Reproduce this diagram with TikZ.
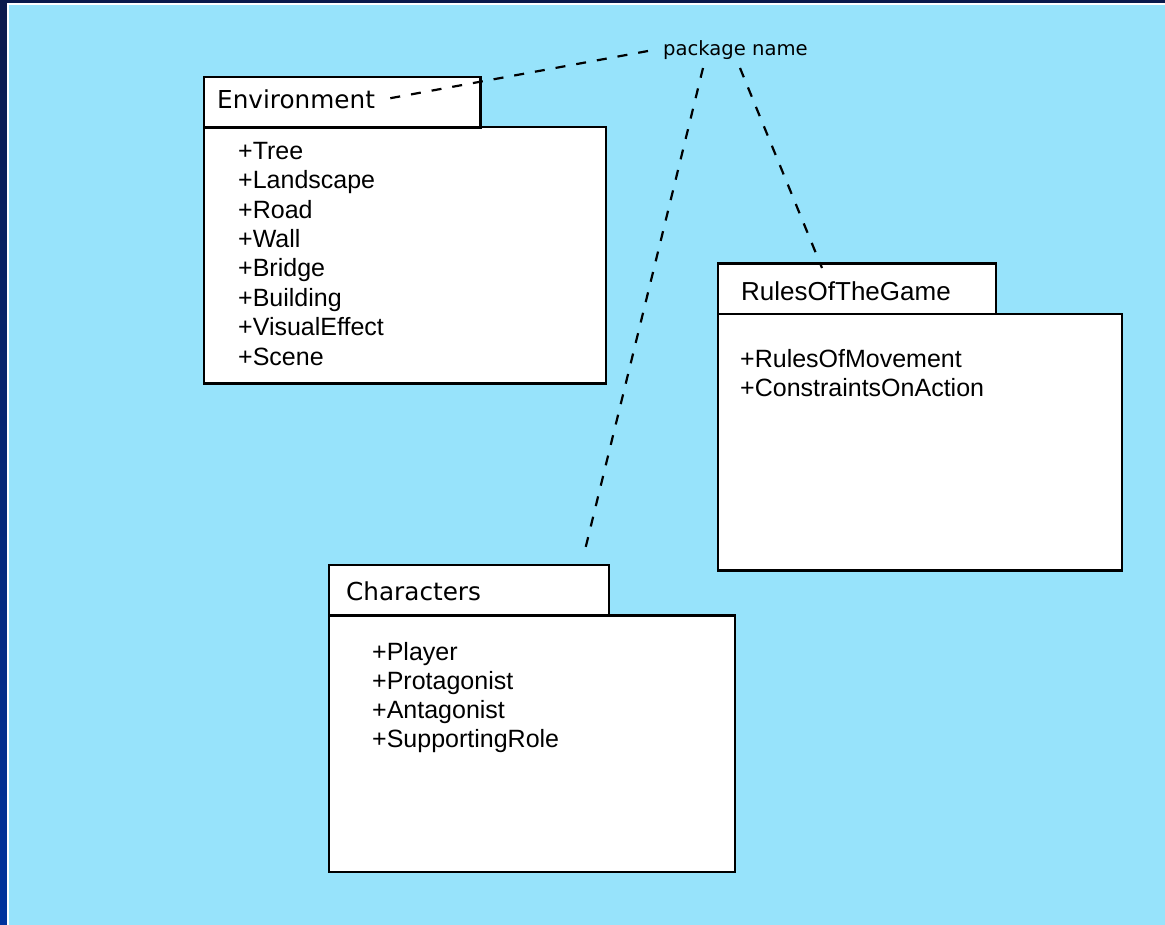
\documentclass[tikz,border=0pt]{standalone}
\usepackage{fontspec}
\setmainfont{Liberation Sans}
\newfontfamily\titlefont{DejaVu Sans}
\usepackage{tikz}
\usetikzlibrary{positioning}

\definecolor{SkyBg}{HTML}{97E3FB}
\definecolor{FrameTop}{HTML}{0A1A4C}
\definecolor{FrameBot}{HTML}{00339E}

\begin{document}
\begin{tikzpicture}[x=1pt, y=-1pt]

    % Slide background
    \useasboundingbox (0,0) rectangle (1165,925);
    \fill[SkyBg] (0,0) rectangle (1165,925);
    \shade[top color=FrameTop, bottom color=FrameBot] (0,0) rectangle (7.3,925);
    \fill[FrameTop] (0,0) rectangle (1165,3.4);
    \fill[white] (7.3,3.4) rectangle (9.2,925);
    \fill[white] (7.3,3.4) rectangle (1165,5.4);

    % Package boxes
    \tikzset{boxS/.style={draw=black, fill=white, line width=2.2pt, inner sep=0pt, outer sep=0pt, anchor=north west}}
    \tikzset{tabS/.style={boxS, minimum height=50.5pt}}
    \tikzset{bodyS/.style={boxS, minimum height=256.5pt}}

    % Texts
    \tikzset{titleS/.style={anchor=base west, inner sep=0pt, font=\titlefont\fontsize{24.7}{29}\selectfont}}
    \tikzset{rtitleS/.style={anchor=base west, inner sep=0pt, font=\fontsize{26}{29}\selectfont}}
    \tikzset{itemS/.style={anchor=base west, inner sep=0pt, font=\fontsize{25}{29}\selectfont}}
    \tikzset{pkgS/.style={anchor=base west, inner sep=0pt, font=\titlefont\fontsize{19.6}{22}\selectfont}}

    % Dependencies
    \tikzset{depS/.style={draw=black, line width=2.2pt, dash pattern=on 10pt off 11pt}}

    % Environment
    \node (envB) [bodyS, minimum width=402pt] at (204,127) {};
    \node (envT) [tabS, minimum width=276.5pt] at (204,77) {};
    \node (envN) [titleS] at (217,109) {Environment};
    	\node (env1) [itemS] at (238,159.3) {+Tree};
    	\node (env2) [itemS] at (238,188.7) {+Landscape};
    	\node (env3) [itemS] at (238,218.1) {+Road};
    	\node (env4) [itemS] at (238,247.5) {+Wall};
    	\node (env5) [itemS] at (238,276.9) {+Bridge};
    	\node (env6) [itemS] at (238,306.3) {+Building};
    	\node (env7) [itemS] at (238,335.7) {+VisualEffect};
    	\node (env8) [itemS] at (238,365.1) {+Scene};

    % RulesOfTheGame
    \node (rulB) [bodyS, minimum width=404pt] at (718,314) {};
    \node (rulT) [tabS, minimum width=278pt] at (718,263.5) {};
    \node (rulN) [rtitleS] at (741,301) {RulesOfTheGame};
    	\node (rul1) [itemS] at (740,367) {+RulesOfMovement};
    	\node (rul2) [itemS] at (740,396.5) {+ConstraintsOnAction};

    % Characters
    \node (chrB) [bodyS, minimum width=406pt] at (329,615.5) {};
    \node (chrT) [tabS, minimum width=280pt] at (329,565) {};
    \node (chrN) [titleS] at (346,600) {Characters};
    	\node (chr1) [itemS] at (372,660) {+Player};
    	\node (chr2) [itemS] at (372,689.3) {+Protagonist};
    	\node (chr3) [itemS] at (372,718.6) {+Antagonist};
    	\node (chr4) [itemS] at (372,747.9) {+SupportingRole};

    % Package name
    \node (pkg) [pkgS] at (663,56) {package name};
    \coordinate (pkgW) at (648,51);
    \coordinate (pkgS1) at (703,68);
    \coordinate (pkgS2) at (740,68);
    \coordinate (envE) at (386,99);
    \coordinate (chrE) at (585,550);
    \coordinate (rulE) at (822,268);

    % Dashed links
    \path[depS] (pkgW) -- (envE);
    \path[depS] (pkgS1) -- (chrE);
    \path[depS] (pkgS2) -- (rulE);

\end{tikzpicture}
\end{document}
